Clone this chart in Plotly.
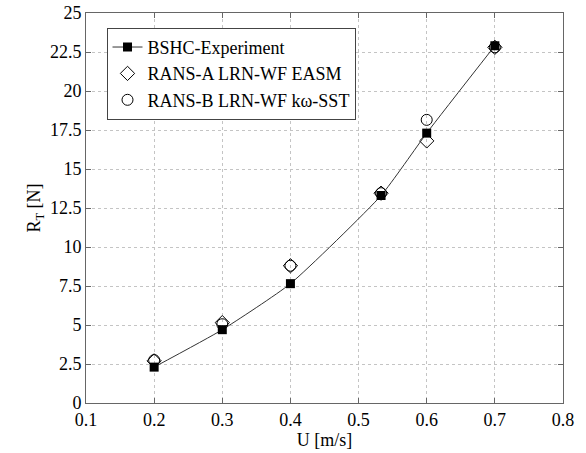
import plotly.graph_objects as go

U = [0.2, 0.3, 0.4, 0.533, 0.6, 0.7]
exp_RT = [2.3, 4.7, 7.65, 13.3, 17.3, 22.9]
ransA_RT = [2.7, 5.15, 8.8, 13.45, 16.8, 22.8]
ransB_RT = [2.75, 5.05, 8.8, 13.45, 18.15, 22.8]
x_ticks = [0.1, 0.2, 0.3, 0.4, 0.5, 0.6, 0.7, 0.8]
y_ticks = [0, 2.5, 5, 7.5, 10, 12.5, 15, 17.5, 20, 22.5, 25]

FONT = "Liberation Serif"

fig = go.Figure()
fig.add_trace(go.Scatter(
    x=U, y=ransA_RT, mode="markers", name="RANS-A LRN-WF EASM",
    marker=dict(symbol="diamond-open", size=11, color="black", line=dict(width=1)),
    legendrank=2))
fig.add_trace(go.Scatter(
    x=U, y=ransB_RT, mode="markers", name="RANS-B LRN-WF kω-SST",
    marker=dict(symbol="circle-open", size=11, color="black", line=dict(width=1)),
    legendrank=3))
fig.add_trace(go.Scatter(
    x=U, y=exp_RT, mode="lines+markers", name="BSHC-Experiment",
    line=dict(color="#333333", width=1, shape="spline", smoothing=0.5),
    marker=dict(symbol="square", size=9, color="black"),
    legendrank=1))

axis_common = dict(
    showline=True, linecolor="#666666", linewidth=1, mirror="ticks",
    ticks="inside", ticklen=5, tickcolor="#666666",
    showgrid=True, gridcolor="#c4c4c4", griddash="dot", gridwidth=1,
    zeroline=False, tickfont=dict(family=FONT, size=18, color="black"),
    ticklabeloverflow="allow",
)

fig.update_layout(
    width=586, height=453,
    margin=dict(l=86, r=23, t=13, b=50, autoexpand=False),
    paper_bgcolor="white", plot_bgcolor="white",
    font=dict(family=FONT, color="black"),
    xaxis=dict(range=[0.1, 0.8], tickvals=x_ticks, ticktext=[str(v) for v in x_ticks],
               title=dict(text="U [m/s]", font=dict(family=FONT, size=18), standoff=2),
               automargin=False, **axis_common),
    yaxis=dict(range=[0, 25], tickvals=y_ticks, ticktext=[str(v) for v in y_ticks],
               title=dict(text="R<sub>T</sub> [N]", font=dict(family=FONT, size=18), standoff=4),
               automargin=False, **axis_common),
    legend=dict(x=0.043, y=0.962, xanchor="left", yanchor="top",
                bordercolor="#444444", borderwidth=1, bgcolor="white",
                font=dict(family=FONT, size=18, color="black"),
                tracegroupgap=0, itemwidth=30),
    showlegend=True,
)

fig.write_html("out.html", config={"displayModeBar": False},
               post_script="document.body.style.margin='0px';")
